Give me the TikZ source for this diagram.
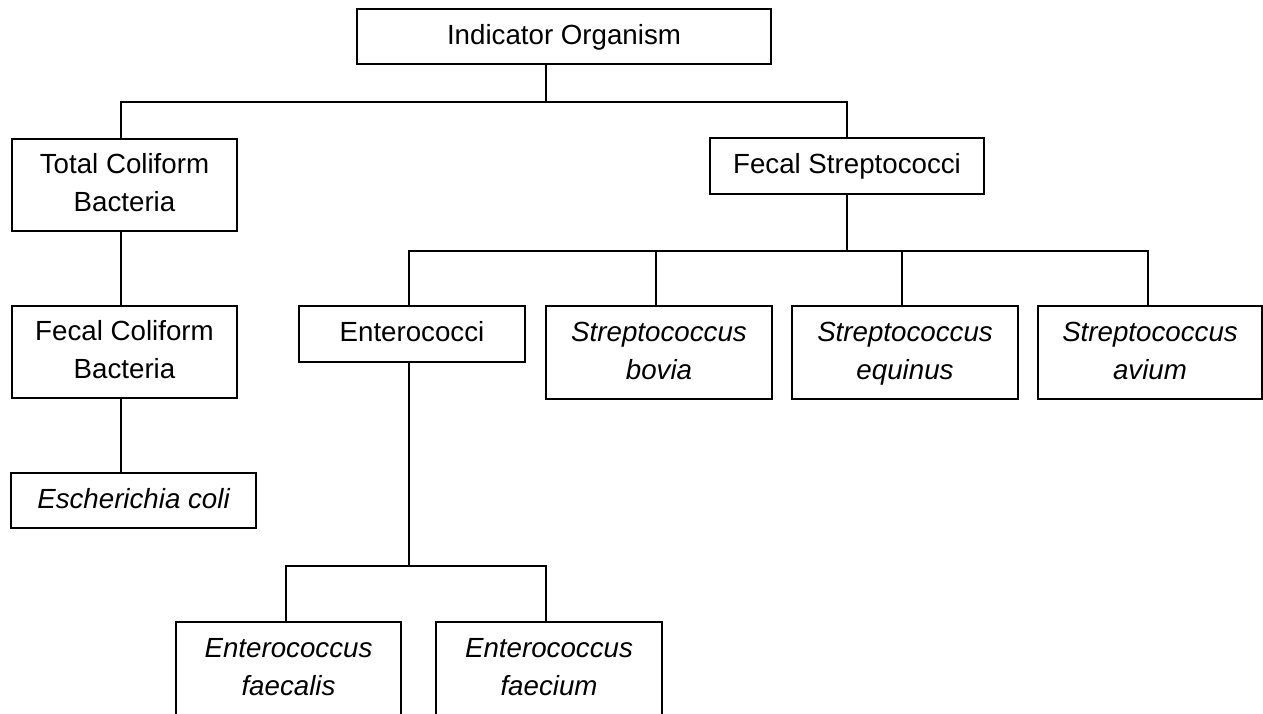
\documentclass[tikz,border=0pt]{standalone}
\usepackage{fontspec}
\setmainfont{Liberation Sans}
\begin{document}
\begin{tikzpicture}[x=1pt,y=-1pt,
  orgbox/.style={draw=black, line width=1.8pt, rectangle, inner sep=0pt, align=center,
    font=\fontsize{27.7}{38}\selectfont, text=black},
  conn/.style={draw=black, line width=1.4pt}]
\useasboundingbox (0,0) rectangle (1263,713);
\clip (0,0) rectangle (1263,713);
\fill[white] (0,0) rectangle (1263,713);

% nodes
\node[orgbox, minimum width=414pt, minimum height=55pt] (ind) at (564,36.5) {\strut Indicator Organism};
\node[orgbox, minimum width=225pt, minimum height=92pt] (tc) at (124.5,185) {\strut Total Coliform\\\strut Bacteria};
\node[orgbox, minimum width=274pt, minimum height=56pt] (fs) at (847,166) {\strut Fecal Streptococci};
\node[orgbox, minimum width=225pt, minimum height=92pt] (fc) at (124.5,352) {\strut Fecal Coliform\\\strut Bacteria};
\node[orgbox, minimum width=245pt, minimum height=55pt] (ec) at (133.5,500.5) {\strut\itshape Escherichia coli};
\node[orgbox, minimum width=226pt, minimum height=56pt] (ent) at (412,334) {\strut Enterococci};
\node[orgbox, minimum width=226pt, minimum height=93pt] (bov) at (659,352.5) {\strut\itshape Streptococcus\\\strut\itshape bovia};
\node[orgbox, minimum width=226pt, minimum height=93pt] (equ) at (905,352.5) {\strut\itshape Streptococcus\\\strut\itshape equinus};
\node[orgbox, minimum width=224pt, minimum height=93pt] (avi) at (1150,352.5) {\strut\itshape Streptococcus\\\strut\itshape avium};
\node[orgbox, minimum width=225pt, minimum height=94pt] (fa) at (288.5,669) {\strut\itshape Enterococcus\\\strut\itshape faecalis};
\node[orgbox, minimum width=226pt, minimum height=94pt] (fm) at (549,669) {\strut\itshape Enterococcus\\\strut\itshape faecium};

% junction coordinates
\coordinate (j1) at (546,102);
\coordinate (xa) at (121,0);
\coordinate (j2) at (847,251);
\coordinate (h2l) at (409,251);
\coordinate (xbov) at (656,251);
\coordinate (xequ) at (902,251);
\coordinate (h2r) at (1148,251);
\coordinate (j3) at (409,566);
\coordinate (h3l) at (286,566);
\coordinate (h3r) at (546,566);

% connectors
\draw[conn] (ind.south -| j1) -- (j1);
\draw[conn] (tc.north -| xa) |- (j1) -| (fs.north);
\draw[conn] (tc.south -| xa) -- (fc.north -| xa);
\draw[conn] (fc.south -| xa) -- (ec.north -| xa);
\draw[conn] (fs.south) -- (j2);
\draw[conn] (ent.north -| h2l) -- (h2l) -- (h2r) -- (avi.north -| h2r);
\draw[conn] (bov.north -| xbov) -- (xbov);
\draw[conn] (equ.north -| xequ) -- (xequ);
\draw[conn] (ent.south -| j3) -- (j3);
\draw[conn] (fa.north -| h3l) -- (h3l) -- (h3r) -- (fm.north -| h3r);
\end{tikzpicture}
\end{document}
